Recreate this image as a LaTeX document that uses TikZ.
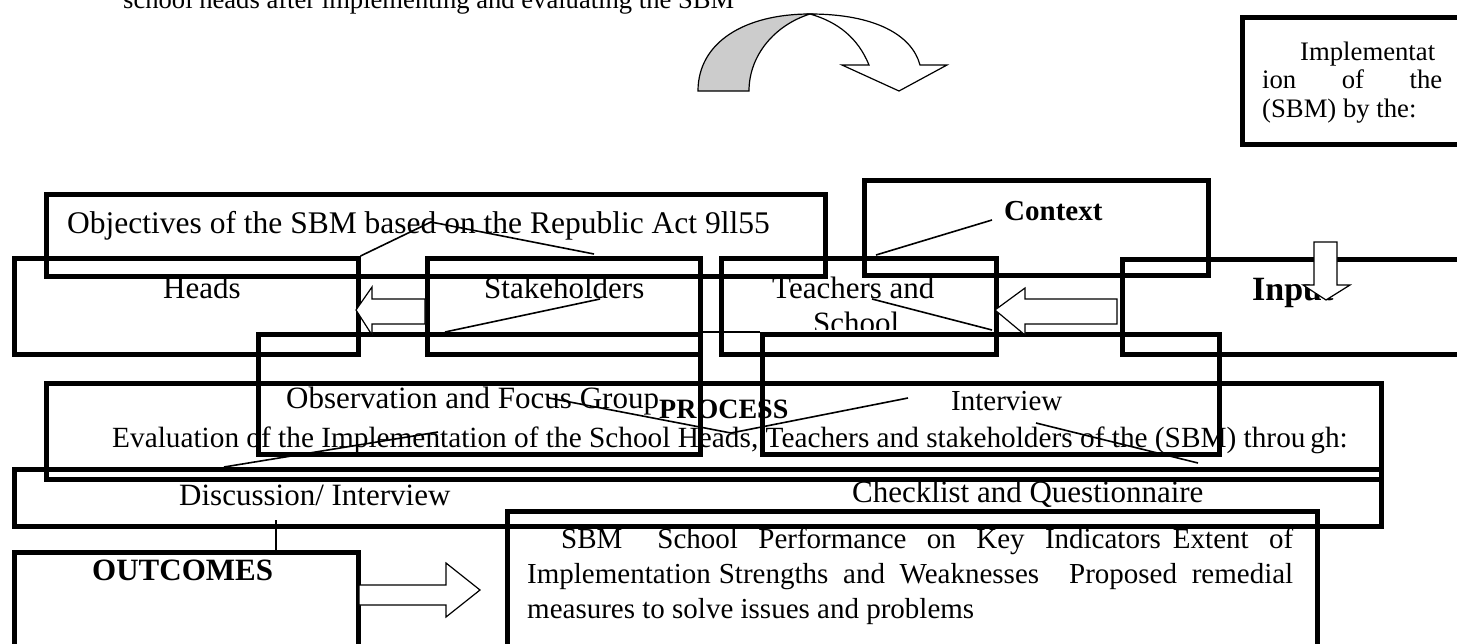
\documentclass[tikz,border=0pt]{standalone}
\usepackage{fontspec}
\setmainfont{Liberation Serif}
\newcommand\fsz[1]{\fontsize{#1}{#1}\selectfont}
\begin{document}
\begin{tikzpicture}[x=1pt,y=-1pt,
  box/.style={draw, line width=4.5pt, rectangle, inner sep=0pt, anchor=north west},
  lbl/.style={inner sep=0pt, anchor=base west},
  link/.style={draw, line width=1.6pt},
  blockarrow/.style={draw, line width=1.2pt, fill=white, line join=miter}]
\useasboundingbox (0,0) rectangle (1457,643);
\clip (0,0) rectangle (1457,643);

% boxes
\node[box, minimum width=235pt, minimum height=127pt] (impl) at (1240,15) {};
\node[box, minimum width=779pt, minimum height=82pt] (obj) at (44,192) {};
\node[box, minimum width=344pt, minimum height=95pt] (ctx) at (862,178) {};
\node[box, minimum width=344pt, minimum height=96pt] (heads) at (12,256) {};
\node[box, minimum width=273pt, minimum height=96pt] (stake) at (425,256) {};
\node[box, minimum width=275pt, minimum height=96pt] (teach) at (719,256) {};
\node[box, minimum width=355pt, minimum height=95pt] (input) at (1120,257) {};
\node[box, minimum width=442pt, minimum height=120pt] (obs) at (256,332) {};
\node[box, minimum width=457pt, minimum height=120pt] (intv) at (760,332) {};
\node[box, minimum width=1335pt, minimum height=96pt] (eval) at (44,381) {};
\node[box, minimum width=1367pt, minimum height=57pt] (disc) at (12,467) {};
\node[box, minimum width=344pt, minimum height=110pt] (outc) at (12,550) {};
\node[box, minimum width=810pt, minimum height=150pt] (res) at (505,509) {};

% texts
\node[lbl, font=\fsz{26.6}] (topT) at (123,8) {school heads after implementing and evaluating the SBM};
\node[lbl, font=\fsz{26.7}] (impl1) at (1300,60) {Implementat};
\node[lbl, font=\fsz{26.7}] (impl2) at (1262,88) {\makebox[180pt][s]{ion\hfill of\hfill the}};
\node[lbl, font=\fsz{26.7}] (impl3) at (1262,117) {(SBM) by the:};
\node[lbl, font=\fsz{31.5}] (objT) at (67,233) {Objectives of the SBM based on the Republic Act 9ll55};
\node[lbl, font=\fsz{29}\bfseries] (ctxT) at (1004,220) {Context};
\node[lbl, font=\fsz{31}] (headsT) at (163,298) {Heads};
\node[lbl, font=\fsz{31}] (stakeT) at (484,298) {Stakeholders};
\node[lbl, font=\fsz{31}] (teachT) at (772,298) {Teachers and};
\begin{scope}
\clip (700,250) rectangle (1000,329);
\node[lbl, font=\fsz{31}] (schoolT) at (813,333) {School};
\end{scope}
\node[lbl, font=\fsz{34}\bfseries] (inputT) at (1252,300) {Input};
\node[lbl, font=\fsz{31}] (obsT) at (286,408) {Observation and Focus Group};
\node[lbl, font=\fsz{28}\bfseries] (procT) at (659,418) {PROCESS};
\node[lbl, font=\fsz{29}] (intvT) at (951,410) {Interview};
\node[lbl, font=\fsz{29.3}] (evalT) at (112,447) {Evaluation of the Implementation of the School Heads, Teachers and stakeholders of the (SBM) throu\,gh:};
\node[lbl, font=\fsz{31}] (discT) at (179,505) {Discussion/ Interview};
\node[lbl, font=\fsz{31}] (checkT) at (852,502) {Checklist and Questionnaire};
\node[lbl, font=\fsz{31}\bfseries] (outcT) at (92,580) {OUTCOMES};
\node[lbl, font=\fsz{29}] (res1) at (561,548) {\makebox[732pt][s]{SBM\hspace{35pt}School Performance on Key Indicators\hspace{12pt}Extent of}};
\node[lbl, font=\fsz{29}] (res2) at (527,583) {\makebox[766pt][s]{Implementation\hspace{8pt}Strengths and Weaknesses\hspace{30pt}Proposed remedial}};
\node[lbl, font=\fsz{29}] (res3) at (527,618) {measures to solve issues and problems};

% curved arrow
\filldraw[fill=black!20, line width=1.2pt] (698,91) .. controls (698,42) and (745,14) .. (810,14) .. controls (775,25) and (749,55) .. (749,91) -- cycle;
\filldraw[fill=white, line width=1.2pt] (810,14) .. controls (875,14) and (912,35) .. (920,65) -- (947,65) -- (899,91) -- (842,65) -- (869,65) .. controls (858,38) and (838,22) .. (810,14) -- cycle;

% block arrows
\draw[blockarrow] (356,310) -- (372,287) -- (372,299) -- (425,299) -- (425,324) -- (372,324) -- (372,335) -- cycle;
\draw[blockarrow] (995,310) -- (1025,288) -- (1025,299) -- (1117,299) -- (1117,324) -- (1025,324) -- (1025,335) -- cycle;
\draw[blockarrow] (1326,300) -- (1303,285) -- (1314,285) -- (1314,242) -- (1337,242) -- (1337,285) -- (1350,285) -- cycle;
\draw[blockarrow] (480,590) -- (446,563) -- (446,585) -- (359,585) -- (359,605) -- (446,605) -- (446,617) -- cycle;

% connectors
\coordinate (apex) at (431,222);
\coordinate (stakeTop) at (594,254);
\draw[link] (heads.north east) -- (apex) -- (stakeTop);
\coordinate (stakeIn) at (600,299);
\coordinate (obsTop) at (445,332);
\draw[link] (stakeIn) -- (obsTop);
\coordinate (ctxIn) at (992,220);
\coordinate (teachTop) at (876,255);
\draw[link] (ctxIn) -- (teachTop);
\coordinate (teachIn) at (872,299);
\coordinate (teachLow) at (992,330);
\draw[link] (teachIn) -- (teachLow);
\coordinate (grpEnd) at (549,398);
\coordinate (vBot) at (731,433);
\coordinate (intvIn) at (908,398);
\draw[link] (grpEnd) -- (vBot) -- (intvIn);
\coordinate (obsIn) at (438,432);
\coordinate (discTop) at (224,467);
\draw[link] (obsIn) -- (discTop);
\coordinate (intvLow) at (1036,423);
\coordinate (discTopR) at (1198,463);
\draw[link] (intvLow) -- (discTopR);
\coordinate (discLow) at (276,520);
\draw[link] (discLow) -- (outc.north west -| discLow);
\draw[line width=1.4pt] (obs.north east) -- (intv.north west);
\end{tikzpicture}
\end{document}
